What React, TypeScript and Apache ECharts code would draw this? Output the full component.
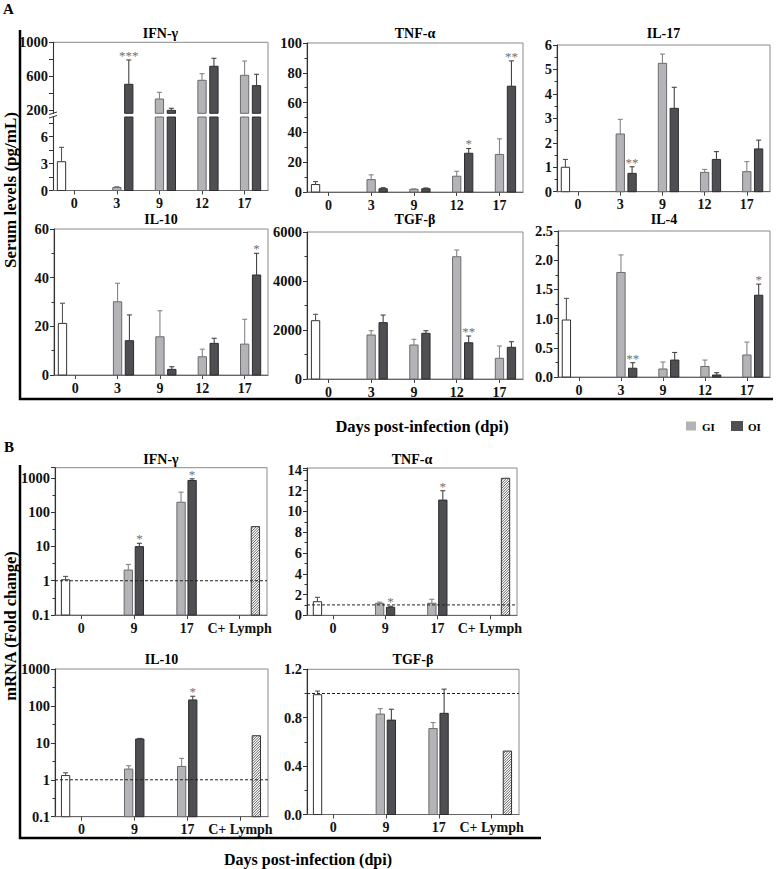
import React, { useEffect, useRef } from "react";
import * as echarts from "echarts";

const SERIF = '"Liberation Serif", "Times New Roman", serif';

// ---------- Panel A : serum levels (pg/mL) ----------
const daysA = ["0", "3", "9", "12", "17"];
// control (day 0): [mean, error]; GI / OI values for days 3, 9, 12, 17
const ifnA_ctrl = [3.2, 1.6];
const ifnA_gi = [0.33, 333, 553, 612];
const ifnA_giErr = [0.11, 79, 78, 168];
const ifnA_oi = [506, 200, 718, 490];
const ifnA_oiErr = [286, 24, 94, 134];
const ifnA_oiSig = ["***", "", "", ""];

const tnfA_ctrl = [5.0, 2.0];
const tnfA_gi = [8.3, 1.8, 10.6, 25.2];
const tnfA_giErr = [3.2, 0.3, 3.3, 10.5];
const tnfA_oi = [2.2, 2.2, 26, 71];
const tnfA_oiErr = [0.7, 0.5, 3.2, 17];
const tnfA_oiSig = ["", "", "*", "**"];

const il17A_ctrl = [1.0, 0.32];
const il17A_gi = [2.36, 5.25, 0.79, 0.82];
const il17A_giErr = [0.6, 0.38, 0.12, 0.41];
const il17A_oi = [0.75, 3.41, 1.32, 1.75];
const il17A_oiErr = [0.27, 0.86, 0.32, 0.36];
const il17A_oiSig = ["**", "", "", ""];

const il10A_ctrl = [21.2, 8.3];
const il10A_gi = [30.1, 15.7, 7.5, 12.7];
const il10A_giErr = [7.6, 10.7, 3.1, 10.2];
const il10A_oi = [14.1, 2.3, 13.0, 41.1];
const il10A_oiErr = [10.6, 1.1, 2.1, 8.9];
const il10A_oiSig = ["", "", "", "*"];

const tgfA_ctrl = [2380, 260];
const tgfA_gi = [1796, 1388, 4990, 845];
const tgfA_giErr = [174, 232, 275, 502];
const tgfA_oi = [2300, 1865, 1480, 1294];
const tgfA_oiErr = [310, 105, 275, 228];
const tgfA_oiSig = ["", "", "**", ""];

const il4A_ctrl = [0.976, 0.37];
const il4A_gi = [1.79, 0.137, 0.18, 0.377];
const il4A_giErr = [0.3, 0.12, 0.11, 0.22];
const il4A_oi = [0.15, 0.29, 0.034, 1.4];
const il4A_oiErr = [0.095, 0.13, 0.04, 0.19];
const il4A_oiSig = ["**", "", "", "*"];

// ---------- Panel B : mRNA (fold change) ----------
const catsB = ["0", "9", "17", "C+ Lymph"];
// control (day 0): [mean, error]; GI / OI for days 9, 17; positive control value
const ifnB_ctrl = [1.07, 0.27];
const ifnB_gi = [2.05, 196];
const ifnB_giErr = [0.95, 189];
const ifnB_oi = [9.9, 845];
const ifnB_oiErr = [2.5, 100];
const ifnB_oiSig = ["*", "*"];
const ifnB_pos = 38;

const tnfB_ctrl = [1.31, 0.42];
const tnfB_gi = [1.15, 1.16];
const tnfB_giErr = [0.12, 0.38];
const tnfB_oi = [0.77, 11.1];
const tnfB_oiErr = [0.1, 0.9];
const tnfB_oiSig = ["*", "*"];
const tnfB_pos = 13.2;

const il10B_ctrl = [1.3, 0.25];
const il10B_gi = [1.95, 2.3];
const il10B_giErr = [0.45, 1.5];
const il10B_oi = [12.7, 145];
const il10B_oiErr = [0.5, 38];
const il10B_oiSig = ["", "*"];
const il10B_pos = 15.6;

const tgfB_ctrl = [0.99, 0.03];
const tgfB_gi = [0.83, 0.71];
const tgfB_giErr = [0.045, 0.05];
const tgfB_oi = [0.78, 0.836];
const tgfB_oiErr = [0.09, 0.2];
const tgfB_oiSig = ["", ""];
const tgfB_pos = 0.524;

// ---------- helpers ----------
type Item = { x: number; v: number; e: number; kind: string; sig: string };

function itemsA(ctrl: number[], gi: number[], giErr: number[], oi: number[], oiErr: number[], sig: string[]): Item[] {
  const out: Item[] = [{ x: 0.2, v: ctrl[0], e: ctrl[1], kind: "ctrl", sig: "" }];
  gi.forEach((v, i) => out.push({ x: 1.5 + i, v, e: giErr[i], kind: "gi", sig: "" }));
  oi.forEach((v, i) => out.push({ x: 1.78 + i, v, e: oiErr[i], kind: "oi", sig: sig[i] }));
  return out;
}
function itemsB(ctrl: number[], gi: number[], giErr: number[], oi: number[], oiErr: number[], sig: string[], pos: number): Item[] {
  const out: Item[] = [{ x: 0.2, v: ctrl[0], e: ctrl[1], kind: "ctrl", sig: "" }];
  gi.forEach((v, i) => out.push({ x: 1.39 + i, v, e: giErr[i], kind: "gi", sig: "" }));
  oi.forEach((v, i) => out.push({ x: 1.6 + i, v, e: oiErr[i], kind: "oi", sig: sig[i] }));
  out.push({ x: 3.8, v: pos, e: 0, kind: "pos", sig: "" });
  return out;
}

const STY: Record<string, { fill: string; stroke: string; err: string }> = {
  ctrl: { fill: "#ffffff", stroke: "#333333", err: "#555555" },
  gi: { fill: "#b4b4b8", stroke: "#6a6a6c", err: "#858585" },
  oi: { fill: "#4f4f53", stroke: "#2c2c2e", err: "#444444" },
  pos: { fill: "#ffffff", stroke: "#333333", err: "#333333" },
};

const lin = (v: number) => v;
const lg = (v: number) => Math.log10(v);

type RenderOpts = { base: number; tf: (v: number) => number; clampMax?: number; minV?: number; barW: number };

function makeRender(items: Item[], o: RenderOpts) {
  return (params: any, api: any) => {
    const it = items[params.dataIndex];
    if (o.minV != null && it.v < o.minV) return { type: "group", children: [] };
    let topV = o.tf(it.v);
    let clamped = false;
    if (o.clampMax != null && topV > o.clampMax) {
      topV = o.clampMax;
      clamped = true;
    }
    const pb = api.coord([it.x, o.base]);
    const pt = api.coord([it.x, topV]);
    const w = o.barW;
    const cx = pb[0];
    const x0 = cx - w / 2;
    const y0 = pt[1];
    const h = pb[1] - pt[1];
    const st = STY[it.kind];
    const children: any[] = [];
    children.push({
      type: "rect",
      shape: { x: x0, y: y0, width: w, height: Math.max(h, 0) },
      style: { fill: st.fill, stroke: null },
    });
    if (it.kind === "pos") {
      const step = 2.6;
      for (let k = -h; k < w; k += step) {
        const s1 = Math.max(0, -k);
        const s2 = Math.min(h, w - k);
        if (s2 > s1) {
          children.push({
            type: "line",
            shape: { x1: x0 + k + s1, y1: y0 + h - s1, x2: x0 + k + s2, y2: y0 + h - s2 },
            style: { stroke: "#3a3a3a", lineWidth: 0.8 },
          });
        }
      }
    }
    children.push({
      type: "rect",
      shape: { x: x0, y: y0, width: w, height: Math.max(h, 0) },
      style: { fill: null, stroke: st.stroke, lineWidth: 1 },
    });
    let labelY = y0;
    if (!clamped && it.e > 0) {
      const pe = api.coord([it.x, o.tf(it.v + it.e)]);
      const cw = 5;
      children.push({
        type: "line",
        shape: { x1: cx, y1: y0, x2: cx, y2: pe[1] },
        style: { stroke: st.err, lineWidth: 1.1 },
      });
      children.push({
        type: "line",
        shape: { x1: cx - cw / 2, y1: pe[1], x2: cx + cw / 2, y2: pe[1] },
        style: { stroke: st.err, lineWidth: 1.1 },
      });
      labelY = pe[1];
    }
    if (!clamped && it.sig) {
      children.push({
        type: "text",
        x: cx,
        y: labelY + 2,
        style: {
          text: it.sig,
          fill: "#707070",
          font: `13px ${SERIF}`,
          align: "center",
          verticalAlign: "bottom",
        },
      });
    }
    return { type: "group", children };
  };
}

// grids: [left, top, right, bottom]
const GRIDS: number[][] = [
  [53, 42.3, 268, 113.3], // 0 IFN A upper
  [53, 117, 268, 190.5], // 1 IFN A lower
  [307, 43, 523, 192], // 2 TNF A
  [557, 45, 770, 191.7], // 3 IL-17 A
  [54, 229, 268, 375], // 4 IL-10 A
  [307, 232, 523, 379], // 5 TGF A
  [558, 231, 770, 377], // 6 IL-4 A
  [55, 467.7, 267, 615], // 7 IFN B
  [307, 468, 517, 615.3], // 8 TNF B
  [55, 669, 268, 816.7], // 9 IL-10 B
  [307, 669.3, 519, 814.5], // 10 TGF B
];

const labelStyle = { fontFamily: SERIF, fontWeight: "bold", fontSize: 14, color: "#111" };

function yAxis(g: number, cfg: any) {
  const custom = cfg.labels != null;
  return {
    type: "value",
    gridIndex: g,
    min: cfg.min,
    max: cfg.max,
    interval: cfg.interval,
    splitLine: { show: false },
    axisLine: { show: true, onZero: false, lineStyle: { color: "#333", width: 1.1 } },
    axisTick: custom
      ? { show: true, length: 4, customValues: cfg.ticks, lineStyle: { color: "#333" } }
      : { show: true, length: 4, lineStyle: { color: "#333" } },
    minorTick: { show: !custom, splitNumber: 2, length: 2.5, lineStyle: { color: "#333" } },
    axisLabel: {
      ...labelStyle,
      fontSize: 14.5,
      margin: 5,
      showMaxLabel: cfg.hideMax ? false : undefined,
      formatter: cfg.fmt ?? ((v: number) => String(v)),
      ...(custom ? { customValues: cfg.labels } : {}),
    },
  };
}

function xAxis(g: number, max: number, labels: string[], show = true) {
  const vals = labels.map((_, i) => i + 0.5);
  return {
    type: "value",
    gridIndex: g,
    min: 0,
    max,
    show,
    splitLine: { show: false },
    axisLine: { show: true, onZero: false, lineStyle: { color: "#666", width: 1 } },
    axisTick: { show: true, length: 4, customValues: vals, lineStyle: { color: "#444" } },
    axisLabel: {
      ...labelStyle,
      margin: 6,
      customValues: vals,
      formatter: (v: number) => labels[Math.round(v - 0.5)] ?? "",
    },
  };
}

const logFmt = (v: number) => (v < 0 ? String(Math.pow(10, v)) : String(Math.round(Math.pow(10, v))));

export default function App() {
  const ref = useRef<HTMLDivElement>(null);

  useEffect(() => {
    if (!ref.current) return;
    const chart = echarts.init(ref.current, null, { renderer: "svg" });

    const AX = 5.05;
    const BX = 4.02;
    const IFN_LOW_MAX = 8.17;

    const grid = GRIDS.map((g, i) => ({
      left: g[0],
      top: g[1],
      width: g[2] - g[0],
      height: g[3] - g[1],
      show: i > 1,
      borderColor: "#8a8a8a",
      borderWidth: 1,
      backgroundColor: "transparent",
    }));

    const xAxes = [
      xAxis(0, AX, daysA, false),
      xAxis(1, AX, daysA),
      xAxis(2, AX, daysA),
      xAxis(3, AX, daysA),
      xAxis(4, AX, daysA),
      xAxis(5, AX, daysA),
      xAxis(6, AX, daysA),
      xAxis(7, BX, catsB),
      xAxis(8, BX, catsB),
      xAxis(9, BX, catsB),
      xAxis(10, BX, catsB),
    ];

    const yAxes = [
      yAxis(0, { min: 165, max: 1000, labels: [200, 600, 1000], ticks: [200, 400, 600, 800, 1000] }),
      yAxis(1, { min: 0, max: IFN_LOW_MAX, labels: [0, 3, 6], ticks: [0, 1.5, 3, 4.5, 6, 7.5] }),
      yAxis(2, { min: 0, max: 100, interval: 20 }),
      yAxis(3, { min: 0, max: 6, interval: 1 }),
      yAxis(4, { min: 0, max: 60, interval: 20 }),
      yAxis(5, { min: 0, max: 6000, interval: 2000 }),
      yAxis(6, { min: 0, max: 2.5, interval: 0.5, fmt: (v: number) => v.toFixed(1) }),
      yAxis(7, { min: -1, max: 3.3, interval: 1, hideMax: true, fmt: logFmt }),
      yAxis(8, { min: 0, max: 14.19, interval: 2, hideMax: true }),
      yAxis(9, { min: -1, max: 3, interval: 1, fmt: logFmt }),
      yAxis(10, { min: 0, max: 1.2, interval: 0.4, fmt: (v: number) => v.toFixed(1) }),
    ];

    const ifnA = itemsA(ifnA_ctrl, ifnA_gi, ifnA_giErr, ifnA_oi, ifnA_oiErr, ifnA_oiSig);
    const panelsDef: { g: number; items: Item[]; o: RenderOpts }[] = [
      { g: 0, items: ifnA, o: { base: 165, tf: lin, minV: 200, barW: 8.3 } },
      { g: 1, items: ifnA, o: { base: 0, tf: lin, clampMax: IFN_LOW_MAX, barW: 8.3 } },
      { g: 2, items: itemsA(tnfA_ctrl, tnfA_gi, tnfA_giErr, tnfA_oi, tnfA_oiErr, tnfA_oiSig), o: { base: 0, tf: lin, barW: 8.3 } },
      { g: 3, items: itemsA(il17A_ctrl, il17A_gi, il17A_giErr, il17A_oi, il17A_oiErr, il17A_oiSig), o: { base: 0, tf: lin, barW: 8.3 } },
      { g: 4, items: itemsA(il10A_ctrl, il10A_gi, il10A_giErr, il10A_oi, il10A_oiErr, il10A_oiSig), o: { base: 0, tf: lin, barW: 8.3 } },
      { g: 5, items: itemsA(tgfA_ctrl, tgfA_gi, tgfA_giErr, tgfA_oi, tgfA_oiErr, tgfA_oiSig), o: { base: 0, tf: lin, barW: 8.3 } },
      { g: 6, items: itemsA(il4A_ctrl, il4A_gi, il4A_giErr, il4A_oi, il4A_oiErr, il4A_oiSig), o: { base: 0, tf: lin, barW: 8.3 } },
      { g: 7, items: itemsB(ifnB_ctrl, ifnB_gi, ifnB_giErr, ifnB_oi, ifnB_oiErr, ifnB_oiSig, ifnB_pos), o: { base: -1, tf: lg, barW: 8.3 } },
      { g: 8, items: itemsB(tnfB_ctrl, tnfB_gi, tnfB_giErr, tnfB_oi, tnfB_oiErr, tnfB_oiSig, tnfB_pos), o: { base: 0, tf: lin, barW: 8.3 } },
      { g: 9, items: itemsB(il10B_ctrl, il10B_gi, il10B_giErr, il10B_oi, il10B_oiErr, il10B_oiSig, il10B_pos), o: { base: -1, tf: lg, barW: 8.3 } },
      { g: 10, items: itemsB(tgfB_ctrl, tgfB_gi, tgfB_giErr, tgfB_oi, tgfB_oiErr, tgfB_oiSig, tgfB_pos), o: { base: 0, tf: lin, barW: 8.3 } },
    ];

    const series: any[] = panelsDef.map((p) => ({
      type: "custom",
      xAxisIndex: p.g,
      yAxisIndex: p.g,
      silent: true,
      z: 2,
      data: p.items.map((it) => [it.x, p.o.tf(it.v)]),
      renderItem: makeRender(p.items, p.o),
    }));

    // reference lines (fold change = 1) in panel B
    const refLines: [number, number][] = [
      [7, 0],
      [8, 1],
      [9, 0],
      [10, 1],
    ];
    refLines.forEach(([g, t]) =>
      series.push({
        type: "line",
        xAxisIndex: g,
        yAxisIndex: g,
        silent: true,
        z: 5,
        symbol: "none",
        data: [
          [0, t],
          [BX, t],
        ],
        lineStyle: { type: [3, 2], color: "#222", width: 1 },
      })
    );

    const text = (x: number, y: number, s: string, size: number, extra: any = {}) => ({
      type: "text",
      x,
      y,
      silent: true,
      ...extra,
      style: {
        text: s,
        fill: "#000",
        font: `bold ${size}px ${SERIF}`,
        align: extra.align ?? "center",
        verticalAlign: "middle",
        textAlign: extra.align ?? "center",
        textVerticalAlign: "middle",
      },
    });

    const cx = (g: number) => (GRIDS[g][0] + GRIDS[g][2]) / 2;

    const graphic: any[] = [
      // panel letters
      text(3, 9, "A", 15, { align: "left" }),
      text(4, 447, "B", 15, { align: "left" }),
      // titles panel A
      text(cx(0), 33, "IFN-γ", 14),
      text(cx(2), 33, "TNF-α", 14),
      text(cx(3), 33, "IL-17", 14),
      text(cx(4), 219, "IL-10", 14),
      text(cx(5), 219, "TGF-β", 14),
      text(cx(6), 219, "IL-4", 14),
      // titles panel B
      text(cx(7), 459, "IFN-γ", 14),
      text(cx(8), 459, "TNF-α", 14),
      text(cx(9), 659, "IL-10", 14),
      text(cx(10), 659, "TGF-β", 14),
      // axis titles
      text(10, 190, "Serum levels (pg/mL)", 17, { rotation: Math.PI / 2 }),
      text(10, 626, "mRNA (Fold change)", 16.5, { rotation: Math.PI / 2 }),
      text(422, 426, "Days post-infection (dpi)", 16.5),
      text(308, 859, "Days post-infection (dpi)", 16),
      // legend
      { type: "rect", shape: { x: 686, y: 421.5, width: 10, height: 9 }, style: { fill: "#b3b3b6" } },
      text(702, 426.5, "GI", 11, { align: "left" }),
      { type: "rect", shape: { x: 731, y: 421, width: 12, height: 10 }, style: { fill: "#505054" } },
      text(748, 426.5, "OI", 11, { align: "left" }),
      // outer frames
      { type: "polyline", shape: { points: [[20, 30], [20, 399], [773, 399]] }, style: { stroke: "#000", lineWidth: 2.5, fill: null } },
      { type: "polyline", shape: { points: [[20, 465], [20, 838], [541, 838]] }, style: { stroke: "#000", lineWidth: 2.5, fill: null } },
      // IFN-γ (A) frame with broken axis
      { type: "polyline", shape: { points: [[53, 42.3], [268, 42.3], [268, 190.5]] }, style: { stroke: "#8a8a8a", lineWidth: 1, fill: null } },
      { type: "line", shape: { x1: 49, y1: 114.5, x2: 57, y2: 112 }, style: { stroke: "#333", lineWidth: 1 } },
      { type: "line", shape: { x1: 49, y1: 118, x2: 57, y2: 115.5 }, style: { stroke: "#333", lineWidth: 1 } },
    ];

    chart.setOption({
      animation: false,
      backgroundColor: "#ffffff",
      grid,
      xAxis: xAxes,
      yAxis: yAxes,
      series,
      graphic,
    });

    return () => chart.dispose();
  }, []);

  return (
    <div
      ref={ref}
      style={{ position: "fixed", left: 0, top: 0, width: 777, height: 869, background: "#fff" }}
    />
  );
}
